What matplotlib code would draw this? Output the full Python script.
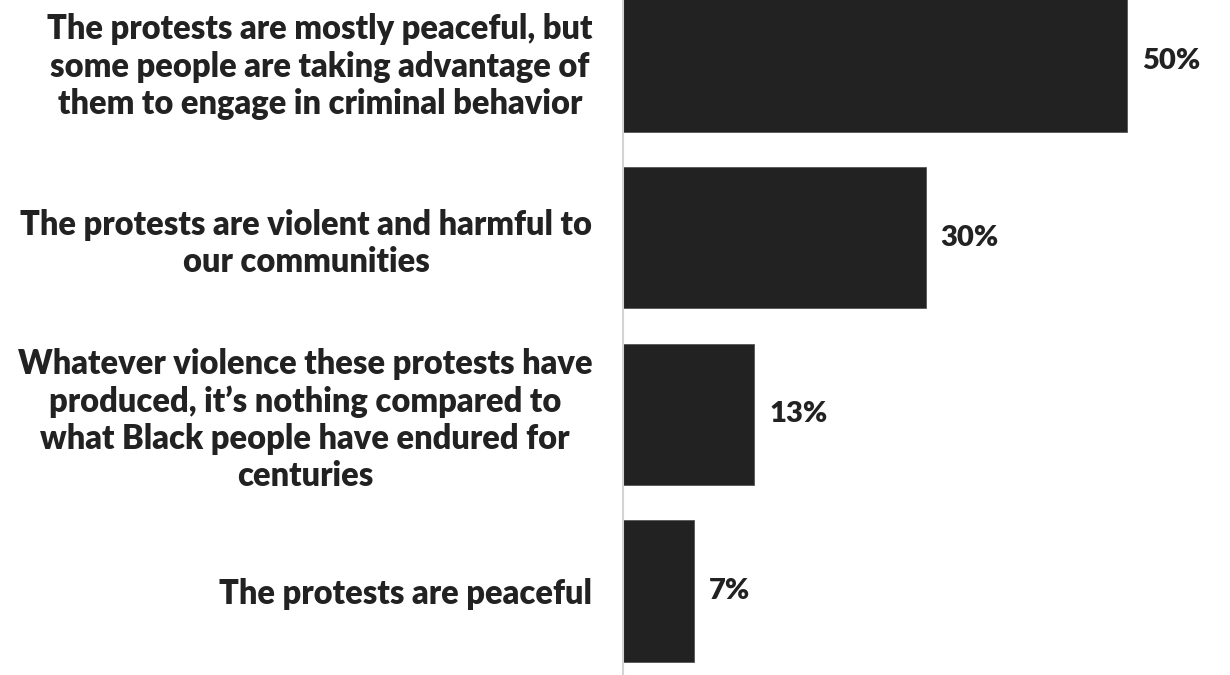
import matplotlib.pyplot as plt

labels = [
    "The protests are mostly peaceful, but\nsome people are taking advantage of\nthem to engage in criminal behavior",
    "The protests are violent and harmful to\nour communities",
    "Whatever violence these protests have\nproduced, it\u2019s nothing compared to\nwhat Black people have endured for\ncenturies",
    "The protests are peaceful",
]
values = [50, 30, 13, 7]

plt.rcParams['font.family'] = ['Lato', 'DejaVu Sans']

fig = plt.figure(figsize=(12.3, 6.75), dpi=100)
ax = fig.add_axes([623 / 1230, 0, 605 / 1230, 1])

pos = list(range(len(values)))
ax.barh(pos, values, height=0.8, color='#222222', edgecolor='#555555', linewidth=0.6)

for p, v in zip(pos, values):
    ax.text(v + 1.5, p, f"{v}%", va='center', ha='left', fontsize=21,
            fontweight='heavy', color='#222222')

ax.set_xlim(0, 60)
ax.set_ylim(3.475, -0.345)
ax.set_yticks(pos)
ax.set_yticklabels(labels, fontsize=23.5, fontweight='heavy', color='#222222')
for t in ax.get_yticklabels():
    t.set_multialignment('center')
    t.set_linespacing(1.2)
ax.tick_params(axis='y', length=0, pad=22)
ax.set_xticks([])

for s in ['top', 'right', 'bottom']:
    ax.spines[s].set_visible(False)
ax.spines['left'].set_color('#d4d4d4')
ax.spines['left'].set_linewidth(1.5)

fig.savefig('out.png', dpi=100)
